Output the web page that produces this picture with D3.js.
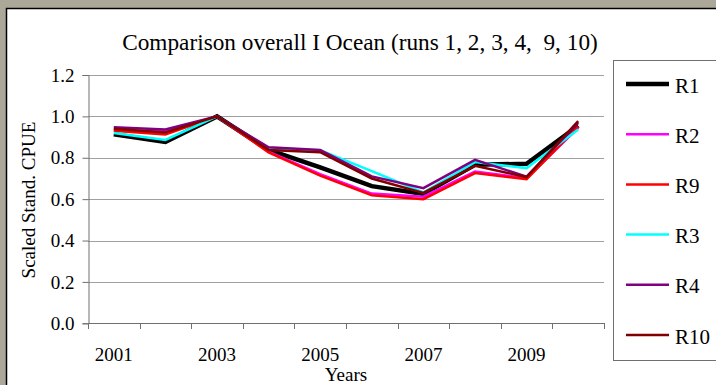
<!DOCTYPE html>
<html><head><meta charset="utf-8">
<script src="https://cdn.jsdelivr.net/npm/d3@7"></script>
<style>html,body{margin:0;padding:0;background:#aca899;}svg{display:block;}</style>
</head><body>
<svg id="c" width="716" height="385"></svg>
<script>
const years = [2001,2002,2003,2004,2005,2006,2007,2008,2009,2010];
const tickLabels = ["2001","2003","2005","2007","2009"];
const yTicks = [0,0.2,0.4,0.6,0.8,1.0,1.2];
const seriesNames = ["R1","R2","R9","R3","R4","R10"];
const seriesColors = ["#000000","#ff00ff","#ff0000","#00ffff","#800080","#800000"];
const R1  = [0.914,0.876,1.0,0.838,0.753,0.663,0.625,0.766,0.771,0.955];
const R2  = [0.932,0.928,1.0,0.830,0.721,0.627,0.612,0.734,0.701,0.945];
const R9  = [0.930,0.912,1.0,0.826,0.714,0.619,0.600,0.726,0.697,0.950];
const R3  = [0.920,0.886,1.0,0.842,0.836,0.735,0.632,0.779,0.750,0.937];
const R4  = [0.948,0.937,1.0,0.851,0.838,0.710,0.653,0.790,0.709,0.968];
const R10 = [0.940,0.922,1.0,0.838,0.827,0.700,0.630,0.761,0.707,0.977];
const seriesValues = [R1,R2,R9,R3,R4,R10];

(function(){
const svg = d3.select("#c");
const font = "'Liberation Serif','Times New Roman',serif";

svg.append("rect").attr("x",6.5).attr("y",8.5).attr("width",720).attr("height",390)
  .attr("fill","#fff").attr("stroke","#000").attr("stroke-width",1.5);

const pL=88, pR=604, pT=75, pB=323.3;
const x = d3.scaleBand().domain(years).range([pL,pR]);
const y = d3.scaleLinear().domain([0,1.2]).range([pB,pT]);

svg.append("g").selectAll("line").data(yTicks.filter(d=>d>0)).join("line")
  .attr("x1",pL).attr("x2",pR)
  .attr("y1",d=>Math.round(y(d))+0.5).attr("y2",d=>Math.round(y(d))+0.5)
  .attr("stroke","#a0a0a0").attr("stroke-width",1.2);

const yAxis = d3.axisLeft(y).tickValues(yTicks).tickFormat(d3.format(".1f")).tickSize(6).tickPadding(8);
const gy = svg.append("g").attr("transform",`translate(${pL+0.5},0)`).call(yAxis);
gy.attr("font-family",font).attr("font-size",19);
gy.select(".domain").attr("stroke","#707070");
gy.selectAll(".tick line").attr("stroke","#707070");
gy.selectAll("text").attr("font-family",font).attr("font-size",19).attr("fill","#000");

const boundaries = years.map((d,i)=>pL + i*x.step()).concat([pR]);
const gx = svg.append("g");
gx.append("line").attr("x1",pL).attr("x2",pR).attr("y1",Math.round(pB)+0.5).attr("y2",Math.round(pB)+0.5)
  .attr("stroke","#707070");
gx.selectAll("line.t").data(boundaries).join("line").attr("class","t")
  .attr("x1",d=>Math.round(d)+0.5).attr("x2",d=>Math.round(d)+0.5)
  .attr("y1",Math.round(pB)).attr("y2",Math.round(pB)+6).attr("stroke","#707070");
gx.selectAll("text").data(tickLabels).join("text")
  .attr("x",d=>x(+d)+x.bandwidth()/2).attr("y",361)
  .attr("text-anchor","middle").attr("font-family",font).attr("font-size",19).text(d=>d);

svg.append("text").attr("x",(pL+pR)/2).attr("y",381).attr("text-anchor","middle")
  .attr("font-family",font).attr("font-size",19).text("Years");
svg.append("text").attr("transform","translate(35,200) rotate(-90)").attr("text-anchor","middle")
  .attr("font-family",font).attr("font-size",19).text("Scaled Stand. CPUE");
const title = svg.append("text").attr("x",360).attr("y",50).attr("text-anchor","middle")
  .attr("xml:space","preserve").style("white-space","pre")
  .attr("font-family",font).attr("font-size",22).text("Comparison overall I Ocean (runs 1, 2, 3, 4,  9, 10)");
const tw = title.node().getComputedTextLength();
if (tw > 0) title.attr("font-size", 22*476/tw);

const line = d3.line().x((d,i)=>x(years[i])+x.bandwidth()/2).y(d=>y(d));
seriesValues.forEach((vals,k)=>{
  svg.append("path").datum(vals).attr("d",line).attr("fill","none")
    .attr("stroke",seriesColors[k]).attr("stroke-width",k===0?4.5:2.5)
    .attr("stroke-linejoin","miter");
});

svg.append("rect").attr("x",613.5).attr("y",60.5).attr("width",120).attr("height",300)
  .attr("fill","#fff").attr("stroke","#707070").attr("stroke-width",1);
const lg = svg.append("g").selectAll("g").data(seriesNames).join("g")
  .attr("transform",(d,i)=>`translate(0,${84+i*50.2})`);
lg.append("line").attr("x1",626).attr("x2",669).attr("y1",0).attr("y2",0)
  .attr("stroke",(d,i)=>seriesColors[i]).attr("stroke-width",(d,i)=>i===0?4.5:2.5);
lg.append("text").attr("x",675).attr("y",8.5).attr("font-family",font).attr("font-size",21).text(d=>d);
})();
</script>
</body></html>
